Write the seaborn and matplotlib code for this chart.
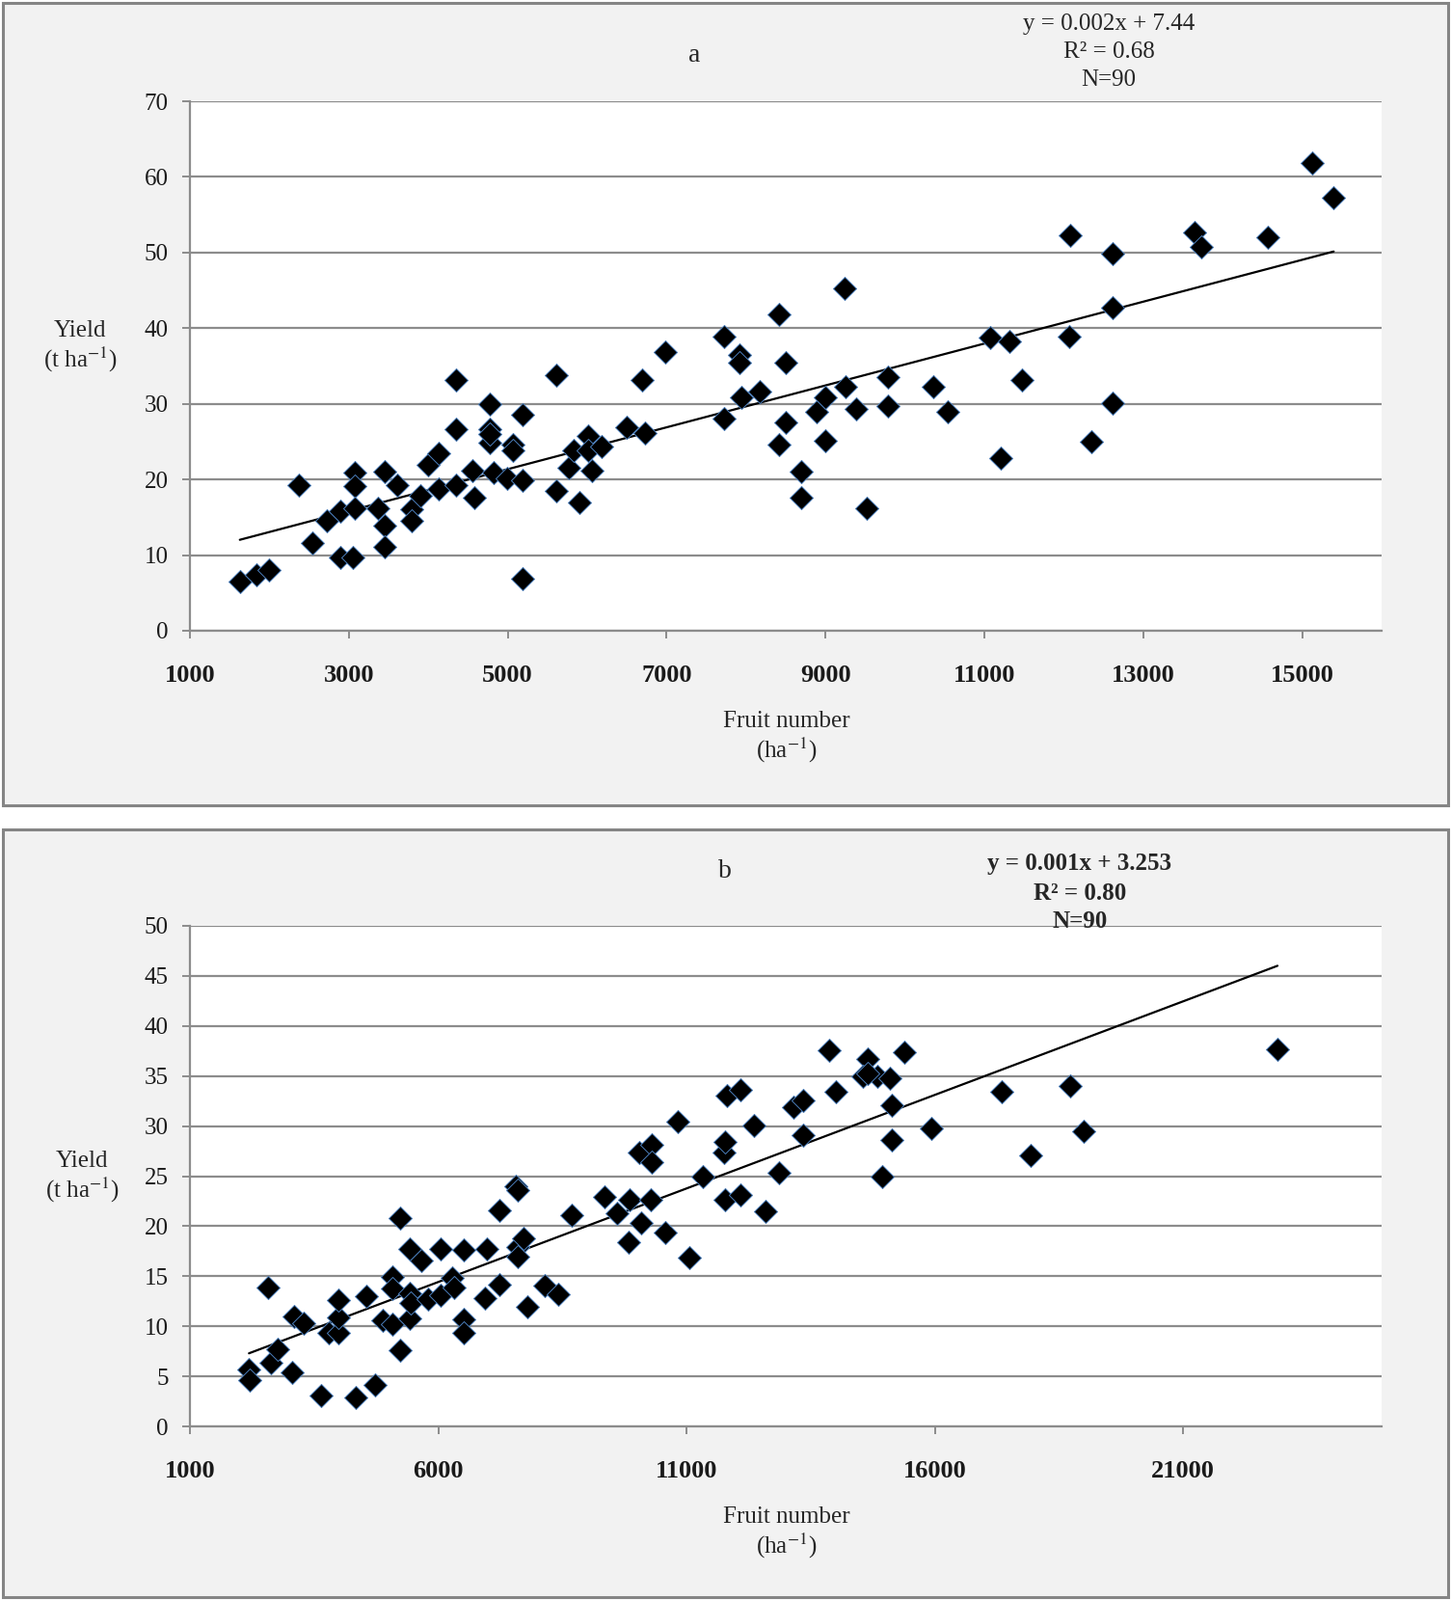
import numpy as np
import pandas as pd
import seaborn as sns
import matplotlib.pyplot as plt
from matplotlib.patches import Rectangle

# panel a: fruit number (ha-1) vs yield (t ha-1)
fruit_a = [1628, 1833, 2000, 2372, 2538, 2718, 2897, 2897, 3051, 3077,
           3077, 3077, 3372, 3449, 3449, 3449, 3615, 3795, 3795, 3897,
           4000, 4128, 4128, 4346, 4346, 4346, 4551, 4577, 4769, 4769,
           4769, 4820, 4987, 5064, 5064, 5192, 5192, 5192, 5615, 5615,
           5769, 5833, 5897, 6013, 6013, 6064, 6179, 6500, 6692, 6731,
           6987, 7718, 7718, 7923, 7923, 7936, 8167, 8410, 8410, 8500,
           8500, 8692, 8692, 8884, 9000, 9000, 9243, 9256, 9384, 9525,
           9782, 9782, 10359, 10538, 11077, 11205, 11320, 11474, 12064, 12077,
           12346, 12615, 12615, 12615, 13640, 13730, 14563, 15128, 15397, 4769]
yield_a = [6.5, 7.4, 8.0, 19.3, 11.6, 14.5, 15.8, 9.7, 9.7, 20.9,
           19.1, 16.2, 16.2, 21.1, 13.9, 11.1, 19.2, 16.1, 14.5, 17.8,
           21.9, 23.5, 18.8, 33.2, 26.6, 19.2, 21.2, 17.6, 29.9, 26.6,
           24.9, 20.9, 20.1, 24.6, 23.9, 28.6, 19.9, 6.9, 33.8, 18.5,
           21.6, 23.9, 16.9, 25.8, 23.9, 21.2, 24.3, 26.9, 33.2, 26.2,
           36.8, 28.0, 38.9, 36.5, 35.4, 30.8, 31.6, 41.8, 24.6, 35.5,
           27.6, 21.1, 17.6, 28.9, 30.8, 25.1, 45.3, 32.3, 29.3, 16.2,
           33.5, 29.7, 32.3, 28.9, 38.8, 22.8, 38.2, 33.2, 38.9, 52.3,
           25.0, 49.9, 42.7, 30.1, 52.7, 50.8, 52.0, 61.9, 57.3, 26.0]

# panel b
fruit_b = [2189, 2209, 2578, 2639, 2762, 3090, 3295, 3049, 3643, 3787,
           3992, 3992, 3992, 4340, 4545, 4730, 4893, 5078, 5078, 5078,
           5242, 5242, 5426, 5426, 5426, 5447, 5651, 5795, 6041, 6041,
           6287, 6328, 6512, 6512, 6512, 6942, 6983, 7229, 7229, 7557,
           7598, 7598, 7598, 7721, 7803, 8151, 8418, 8684, 9340, 9606,
           9832, 9852, 10057, 10078, 10303, 10303, 10283, 10570, 10816, 11061,
           11328, 11758, 11779, 11820, 11779, 12086, 12086, 12352, 12598, 12864,
           13151, 13356, 13356, 13868, 14012, 14647, 14544, 14852, 15098, 15139,
           15139, 14934, 15385, 15938, 17351, 17925, 18724, 18991, 22904, 14647]
yield_b = [5.7, 4.6, 13.9, 6.4, 7.7, 11.0, 10.3, 5.4, 3.1, 9.3,
           9.3, 10.9, 12.6, 2.9, 13.0, 4.1, 10.6, 14.9, 13.8, 10.2,
           20.8, 7.6, 17.7, 13.3, 10.8, 12.3, 16.6, 12.7, 17.7, 13.1,
           14.8, 13.9, 17.6, 10.7, 9.3, 12.8, 17.7, 21.6, 14.2, 24.0,
           23.6, 17.9, 17.0, 18.8, 11.9, 14.1, 13.2, 21.1, 22.9, 21.3,
           18.4, 22.6, 27.4, 20.3, 28.1, 26.4, 22.6, 19.4, 30.4, 16.9,
           25.0, 27.4, 28.4, 33.0, 22.6, 33.6, 23.1, 30.1, 21.5, 25.3,
           31.9, 32.6, 29.1, 37.6, 33.4, 36.7, 35.0, 35.0, 34.8, 32.1,
           28.6, 25.0, 37.4, 29.8, 33.4, 27.1, 34.0, 29.5, 37.7, 35.3]

eq_a = ['y = 0.002x + 7.44', 'R² = 0.68', 'N=90']
eq_b = ['y = 0.001x + 3.253', 'R² = 0.80', 'N=90']

df_a = pd.DataFrame({'fruit': fruit_a, 'yield': yield_a})
df_b = pd.DataFrame({'fruit': fruit_b, 'yield': yield_b})

sns.set_theme(style='white')
plt.rcParams['font.family'] = ['Liberation Serif', 'DejaVu Serif']
plt.rcParams['mathtext.fontset'] = 'stix'

W, H = 1505, 1659
fig = plt.figure(figsize=(W / 100, H / 100), dpi=100)
fig.patch.set_facecolor('white')

# grey panel boxes
for top, bot in [(3, 835), (860, 1656)]:
    fig.patches.append(Rectangle((3 / W, 1 - bot / H), 1499 / W, (bot - top) / H,
                                 transform=fig.transFigure, facecolor='#f2f2f2',
                                 edgecolor='#858585', lw=2.2, zorder=-5))

grid_c = '#8c8c8c'


def panel(ax, df, xlim, xticks, ylim, yticks):
    sns.regplot(data=df, x='fruit', y='yield', ax=ax, scatter=False, ci=None,
                line_kws=dict(color='black', lw=1.6, zorder=2))
    sns.scatterplot(data=df, x='fruit', y='yield', ax=ax, marker='D', s=150,
                    color='black', edgecolor='#4a7ebb', linewidth=0.7, zorder=3)
    ax.set_facecolor('white')
    ax.set_xlim(*xlim)
    ax.set_ylim(*ylim)
    ax.set_xticks(xticks)
    ax.set_yticks(yticks)
    ax.yaxis.grid(True, color=grid_c, lw=1.6)
    ax.xaxis.grid(False)
    ax.set_axisbelow(True)
    for s in ['top', 'right']:
        ax.spines[s].set_visible(False)
    for s in ['left', 'bottom']:
        ax.spines[s].set_color(grid_c)
        ax.spines[s].set_linewidth(1.6)
    ax.tick_params(axis='both', direction='out', length=6, width=1.4, color=grid_c,
                   labelcolor='#1a1a1a')
    ax.tick_params(axis='x', pad=19, labelsize=19, bottom=True)
    ax.tick_params(axis='y', pad=10, labelsize=18, left=True)
    for lab in ax.get_xticklabels():
        lab.set_fontweight('bold')
    ax.set_xlabel('')
    ax.set_ylabel('')


ax_a = fig.add_axes([197 / W, 1 - 654 / H, (1433 - 197) / W, (654 - 105) / H])
panel(ax_a, df_a, (1000, 16000), range(1000, 16000, 2000), (0, 70), range(0, 71, 10))

ax_b = fig.add_axes([197 / W, 1 - 1479 / H, (1433 - 197) / W, (1479 - 960) / H])
panel(ax_b, df_b, (1000, 25000), range(1000, 25000, 5000), (0, 50), range(0, 51, 5))


def ftext(x, y, s, size=18, **kw):
    fig.text(x / W, 1 - y / H, s, ha='center', va='center', fontsize=size, **kw)


ftext(720, 58, 'a', size=20)
for i, line in enumerate(eq_a):
    ftext(1150, 25 + i * 29, line)
ftext(83, 360, 'Yield\n(t ha$^{-1}$)', linespacing=1.15)
ftext(816, 765, 'Fruit number\n(ha$^{-1}$)', linespacing=1.15)

ftext(752, 903, 'b', size=20)
for i, line in enumerate(eq_b):
    ftext(1120, 896 + i * 30, line, fontweight='bold')
ftext(85, 1221, 'Yield\n(t ha$^{-1}$)', linespacing=1.15)
ftext(816, 1590, 'Fruit number\n(ha$^{-1}$)', linespacing=1.15)

fig.savefig('out.png', dpi=100, facecolor='white')
